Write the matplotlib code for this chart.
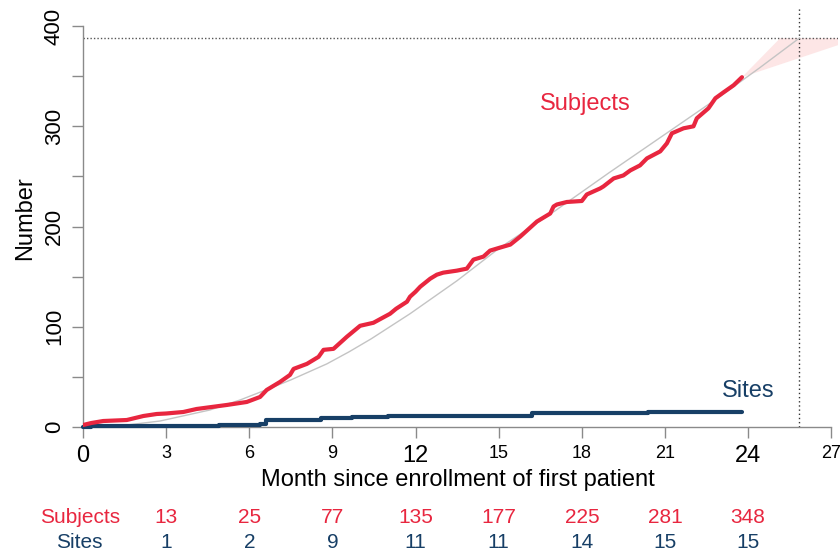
import matplotlib
matplotlib.use('Agg')
import matplotlib.pyplot as plt

plt.rcParams['font.family'] = ['Liberation Sans', 'DejaVu Sans']

# Cumulative enrolled subjects
subj_month = [0.0, 0.3, 0.73, 1.58, 2.18, 2.66, 3.0, 3.62, 4.1, 5.19, 5.91, 6.39, 6.63,
              7.11, 7.47, 7.6, 8.08, 8.5, 8.68, 9.04, 9.52, 10.0, 10.48, 11.08, 11.3,
              11.69, 11.8, 12.0, 12.17, 12.53, 12.77, 13.0, 13.49, 13.85, 14.09, 14.45,
              14.69, 15.05, 15.42, 15.78, 15.9, 16.26, 16.38, 16.86, 16.98, 17.1, 17.46,
              18.0, 18.18, 18.66, 18.78, 19.15, 19.5, 19.75, 20.1, 20.35, 20.83, 21.07,
              21.25, 21.67, 22.03, 22.15, 22.57, 22.82, 23.12, 23.48, 23.78]
subj_count = [2, 4, 6, 7, 11, 13, 13.5, 15, 18, 22, 25, 30, 37,
              45, 52, 58, 63, 70, 77, 78, 90, 101, 104, 113, 118,
              125, 130, 135, 140, 148, 152, 154, 156, 158, 167, 170,
              176, 179, 182, 190, 193, 202, 205, 213, 220, 222, 224.5,
              225.5, 232, 238, 240, 248, 251, 256, 261, 268, 275, 283,
              293, 298, 300, 308, 318, 328, 334, 341, 349]

# Cumulative active sites (step function)
site_month = [0, 0.3, 4.9, 6.4, 6.6, 8.6, 9.7, 11.0, 16.2, 20.4, 23.78]
site_count = [0, 1, 2, 3, 7, 9, 10, 11, 14, 15, 15]

# Projected enrollment curve
proj_month = [0, 1.58, 2.78, 4.58, 5.67, 6.6, 7.5, 8.8, 9.6, 10.4, 11.8, 13.5,
              15.0, 17.0, 19.0, 21.0, 23.0, 24.4, 25.85]
proj_count = [0, 2, 6, 17, 27, 37, 47, 63, 75, 88, 113, 146,
              178, 215, 254, 292, 330, 358, 388]

# Prediction band
band_month = [23.78, 25.16, 27.25, 27.25]
band_count = [349, 388, 388, 381]

target = 388
target_month = 25.85

# Table below the chart
table_months = [3, 6, 9, 12, 15, 18, 21, 24]
table_subjects = [13, 25, 77, 135, 177, 225, 281, 348]
table_sites = [1, 2, 9, 11, 11, 14, 15, 15]

red = '#e8263f'
navy = '#173f66'
grey = '#8a8a8a'

fig = plt.figure(figsize=(8.4, 5.53), dpi=100)
ax = fig.add_axes([0.0988, 0.2278, 0.899, 0.7577])

ax.fill(band_month, band_count, color='#fde6e6', lw=0, zorder=1)
ax.plot(proj_month, proj_count, color='#c4c4c4', lw=1, zorder=2)
ax.axhline(target, color='#555555', lw=1, ls=(0, (1, 1.5)), zorder=1)
ax.axvline(target_month, color='#333333', lw=1, ls=(0, (1, 2)), zorder=1)

ax.plot(subj_month, subj_count, color=red, lw=3, solid_capstyle='round', zorder=4)
ax.plot(site_month, site_count, color=navy, lw=3, drawstyle='steps-post',
        solid_capstyle='round', zorder=3, clip_on=False)

ax.text(18.12, 322, 'Subjects', color=red, fontsize=17, ha='center', va='center')
ax.text(24.0, 36, 'Sites', color=navy, fontsize=17, ha='center', va='center')

ax.set_xlim(0, 27.25)
ax.set_ylim(0, 418)

for s in ['top', 'right']:
    ax.spines[s].set_visible(False)
ax.spines['left'].set_bounds(0, 400)
ax.spines['bottom'].set_bounds(0, 27)
for s in ['left', 'bottom']:
    ax.spines[s].set_color(grey)
    ax.spines[s].set_linewidth(1)

ax.set_xticks(range(0, 28, 3))
ax.set_yticks([0, 100, 200, 300, 400])
ax.set_yticks([50, 150, 250, 350], minor=True)
ax.tick_params(axis='both', which='both', color=grey, length=8, width=1)
ax.tick_params(axis='x', labelsize=13, pad=5)
ax.tick_params(axis='y', labelsize=16, pad=5)
for lab in ax.get_yticklabels():
    lab.set_rotation(90)
    lab.set_va('center')
for lab in ax.get_xticklabels():
    if lab.get_text() in ('0', '12', '24'):
        lab.set_fontsize(17)

ax.set_xlabel('Month since enrollment of first patient', fontsize=17)
ax.xaxis.set_label_coords(0.497, -0.1)
ax.set_ylabel('Number', fontsize=17)
ax.yaxis.set_label_coords(-0.0768, 0.499)
ax.yaxis.label.set_va('center')

ax.text(-0.12, -90, 'Subjects', color=red, fontsize=15, ha='center', va='center', clip_on=False)
ax.text(-0.12, -115, 'Sites', color=navy, fontsize=15, ha='center', va='center', clip_on=False)
for m, s, n in zip(table_months, table_subjects, table_sites):
    ax.text(m, -90, str(s), color=red, fontsize=15, ha='center', va='center', clip_on=False)
    ax.text(m, -115, str(n), color=navy, fontsize=15, ha='center', va='center', clip_on=False)

fig.savefig('out.png', dpi=100)
